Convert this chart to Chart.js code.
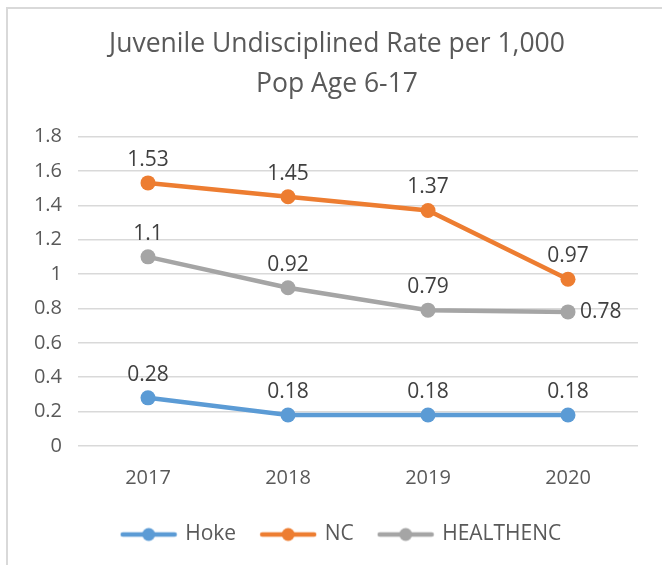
<!DOCTYPE html>
<html>
<head>
<meta charset="utf-8">
<script src="https://cdn.jsdelivr.net/npm/chart.js@4"></script>
<style>
  html, body { margin: 0; padding: 0; background: #fff; }
  #wrap { position: relative; width: 662px; height: 565px; overflow: hidden; }
  #frame { position: absolute; left: 6px; top: 7px; width: 700px; height: 600px;
           border-left: 2px solid #d9d9d9; border-top: 2px solid #d9d9d9; }
  canvas { position: absolute; left: 0; top: 0; }
</style>
</head>
<body>
<div id="wrap">
  <div id="frame"></div>
  <canvas id="grafico" width="662" height="565"></canvas>
</div>
<script>
// dados
const anos = ['2017', '2018', '2019', '2020'];
const hoke = [0.28, 0.18, 0.18, 0.18];
const nc = [1.53, 1.45, 1.37, 0.97];
const healthenc = [1.1, 0.92, 0.79, 0.78];

const fonte = '"Open Sans", "Noto Sans", sans-serif';
const cinzaTexto = '#595959';
const cores = { hoke: '#5B9BD5', nc: '#ED7D31', healthenc: '#A5A5A5' };

// onde vai o rótulo de cada ponto (o último da HEALTHENC fica ao lado)
const posRotulos = [
  ['above', 'above', 'above', 'above'],
  ['above', 'above', 'above', 'above'],
  ['above', 'above', 'above', 'right'],
];

// ícone da legenda: linha com bolinha
function iconeLegenda(cor) {
  const c = document.createElement('canvas');
  c.width = 58; c.height = 16;
  const g = c.getContext('2d');
  g.strokeStyle = cor;
  g.lineWidth = 4.5;
  g.lineCap = 'round';
  g.beginPath();
  g.moveTo(3, 8); g.lineTo(55, 8);
  g.stroke();
  g.fillStyle = cor;
  g.beginPath();
  g.arc(29, 8, 6.5, 0, Math.PI * 2);
  g.fill();
  return c;
}

// empurra título e legenda um pouco para a direita, como no original
const deslocaPlugin = {
  id: 'desloca',
  afterUpdate(chart) {
    if (chart.titleBlock) {
      chart.titleBlock.left += 18;
      chart.titleBlock.right += 18;
    }
    if (chart.legend) {
      chart.legend.left += 23;
      chart.legend.right += 23;
    }
  }
};

const rotulosPlugin = {
  id: 'rotulos',
  afterDatasetsDraw(chart) {
    const ctx = chart.ctx;
    ctx.save();
    ctx.font = '21px ' + fonte;
    ctx.fillStyle = '#404040';
    chart.data.datasets.forEach((ds, i) => {
      const meta = chart.getDatasetMeta(i);
      meta.data.forEach((pt, j) => {
        const txt = String(ds.data[j]);
        ctx.textBaseline = 'middle';
        if (posRotulos[i][j] === 'right') {
          ctx.textAlign = 'left';
          ctx.fillText(txt, pt.x + 12, pt.y);
        } else {
          ctx.textAlign = 'center';
          ctx.fillText(txt, pt.x, pt.y - 23);
        }
      });
    });
    ctx.restore();
  }
};

function serie(nome, dados, cor) {
  return {
    label: nome,
    data: dados,
    borderColor: cor,
    backgroundColor: cor,
    borderWidth: 4.5,
    pointRadius: 7.5,
    pointHoverRadius: 7.5,
    pointBorderWidth: 0,
    tension: 0,
  };
}

const chart = new Chart(document.getElementById('grafico'), {
  type: 'line',
  data: {
    labels: anos,
    datasets: [
      serie('Hoke', hoke, cores.hoke),
      serie('NC', nc, cores.nc),
      serie('HEALTHENC', healthenc, cores.healthenc),
    ]
  },
  options: {
    responsive: false,
    animation: false,
    layout: { padding: { left: 0, right: 24, top: 0, bottom: 10 } },
    plugins: {
      title: {
        display: true,
        text: ['Juvenile Undisciplined Rate per 1,000', 'Pop Age 6-17'],
        color: cinzaTexto,
        font: { family: fonte, size: 26.5, weight: 'normal', lineHeight: 1.5 },
        padding: { top: 25, bottom: 32 },
      },
      legend: {
        position: 'bottom',
        labels: {
          usePointStyle: true,
          pointStyleWidth: 52,
          color: cinzaTexto,
          font: { family: fonte, size: 21 },
          padding: 26,
          generateLabels(ch) {
            return ch.data.datasets.map((ds, i) => ({
              text: ds.label,
              fillStyle: ds.borderColor,
              strokeStyle: ds.borderColor,
              fontColor: cinzaTexto,
              lineWidth: 0,
              pointStyle: iconeLegenda(ds.borderColor),
              hidden: false,
              datasetIndex: i,
            }));
          }
        }
      },
      tooltip: { enabled: false },
    },
    scales: {
      x: {
        offset: true,
        grid: { display: false, drawTicks: false },
        border: { display: false },
        ticks: { color: cinzaTexto, font: { family: fonte, size: 20 }, padding: 20 },
        afterFit(s) { s.height = 52; },
      },
      y: {
        min: 0,
        max: 1.8,
        grid: { color: '#d9d9d9', lineWidth: 1.5, drawTicks: false },
        border: { display: false },
        ticks: {
          stepSize: 0.2,
          color: cinzaTexto,
          font: { family: fonte, size: 20 },
          padding: 16,
          callback: v => String(Math.round(v * 10) / 10),
        },
        afterFit(s) { s.width = 78; },
      }
    }
  },
  plugins: [deslocaPlugin, rotulosPlugin]
});
</script>
</body>
</html>
